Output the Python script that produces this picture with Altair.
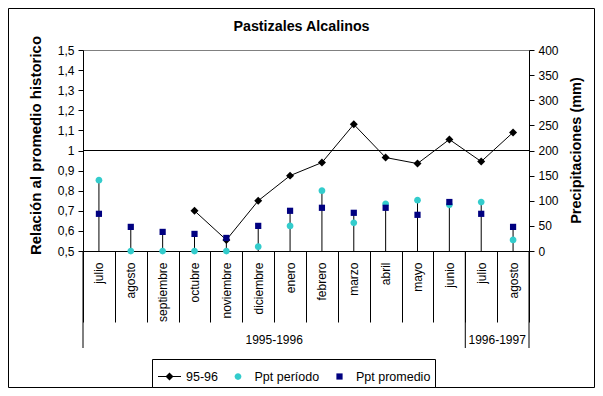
import altair as alt
import pandas as pd

# ---- data ----
months = ["julio", "agosto", "septiembre", "octubre", "noviembre", "diciembre",
          "enero", "febrero", "marzo", "abril", "mayo", "junio", "julio", "agosto"]
relacion = [None, None, None, 0.70, 0.555, 0.75, 0.875, 0.94, 1.13, 0.965, 0.935, 1.055, 0.945, 1.09]
ppt_periodo = [141, 0, 0, 0, 0, 8.5, 50, 120, 56, 94, 101, 92, 97.5, 22]
ppt_promedio = [74, 48, 38, 34, 26, 50, 80, 86, 76, 86, 72, 97.5, 74, 48]
left_ticks = [0.5, 0.6, 0.7, 0.8, 0.9, 1.0, 1.1, 1.2, 1.3, 1.4, 1.5]
right_ticks = [0, 50, 100, 150, 200, 250, 300, 350, 400]
groups = ["1995-1996", "1996-1997"]
group_center_idx = [6, 13]      # band whose left edge is the group's centre
group_start_idx = [0, 12]       # first band of each group
series = ["95-96", "Ppt período", "Ppt promedio"]
colors = ["#000000", "#33CCCC", "#000080"]

FONT = "Liberation Sans"
W, H = 446, 201

keys = [f"{m}|{i}" for i, m in enumerate(months)]
xscale = alt.Scale(domain=keys, paddingInner=0, paddingOuter=0)

rel_df = pd.DataFrame({"key": keys, "rel": relacion}).dropna()
ppt_df = pd.DataFrame({"key": keys, "p": ppt_periodo, "q": ppt_promedio})
pts_df = pd.concat([
    pd.DataFrame({"key": keys, "series": series[1], "v": ppt_periodo}),
    pd.DataFrame({"key": keys, "series": series[2], "v": ppt_promedio}),
], ignore_index=True)
grp_df = pd.DataFrame({"label": groups, "center": [keys[i] for i in group_center_idx],
                       "start": [keys[i] for i in group_start_idx]})
end_df = pd.DataFrame({"end": [keys[-1]]})

# symbol paths (unit square scaled by sqrt(size)/2)
S = 729
LINE_DIAMOND = "M-0.852,-0.037H0.852V0.037H-0.852Z M0,-0.296L0.296,0L0,0.296L-0.296,0Z"
DIAMOND = "M0,-0.296L0.296,0L0,0.296L-0.296,0Z"
CIRCLE = "M0.25,0A0.25,0.25,0,1,1,-0.25,0A0.25,0.25,0,1,1,0.25,0Z"
SQUARE = "M-0.23,-0.23H0.23V0.23H-0.23Z"

xaxis = alt.Axis(title=None, labelExpr="split(datum.label, '|')[0]", labelAngle=270,
                 labelAlign="right", labelBaseline="middle", labelPadding=-60,
                 tickBand="extent", tickSize=71, tickColor="black", domainColor="black",
                 labelFont=FONT, labelFontSize=12, labelColor="black", grid=False)

leftaxis = alt.Axis(orient="left", values=left_ticks, title="Relación al promedio historico",
                    labelExpr="replace(format(datum.value, '.1~f'), '.', ',')",
                    labelFont=FONT, labelFontSize=12, labelColor="black",
                    tickSize=5, tickColor="black", domainColor="black", labelPadding=4,
                    grid=False, titleFont=FONT, titleFontSize=15, titleFontWeight="bold",
                    titleColor="black", titleAngle=270, titleX=-48, titleY=95,
                    titleAlign="center", titleBaseline="middle")
rightaxis = alt.Axis(orient="right", values=right_ticks, title="Precipitaciones (mm)",
                     labelFont=FONT, labelFontSize=12, labelColor="black",
                     tickSize=5, tickColor="black", domainColor="black", labelPadding=4,
                     grid=False, titleFont=FONT, titleFontSize=14.5, titleFontWeight="bold",
                     titleColor="black", titleAngle=270, titleX=47, titleY=100,
                     titleAlign="center", titleBaseline="middle")

X = alt.X("key:N", scale=xscale, axis=xaxis)

frame = alt.Chart(pd.DataFrame({"a": [0]})).mark_rect(
    fill=None, stroke="black", strokeWidth=1).encode(
    x=alt.value(-74.5), x2=alt.value(511.5), y=alt.value(-41.5), y2=alt.value(337.5))

one_rule = alt.Chart(pd.DataFrame({"one": [1.0]})).mark_rule(color="black", strokeWidth=1).encode(
    y=alt.Y("one:Q", scale=alt.Scale(domain=[0.5, 1.5], nice=False, zero=False), axis=leftaxis))

line = alt.Chart(rel_df).mark_line(color="black", strokeWidth=1).encode(
    x=X, y=alt.Y("rel:Q", scale=alt.Scale(domain=[0.5, 1.5], nice=False, zero=False), axis=leftaxis))
diam = alt.Chart(rel_df).mark_point(filled=True, shape=DIAMOND, size=S, color="black", opacity=1).encode(
    x=X, y=alt.Y("rel:Q", scale=alt.Scale(domain=[0.5, 1.5], nice=False, zero=False), axis=leftaxis))

grp_rules = alt.Chart(grp_df).mark_rule(color="black", strokeWidth=1).encode(
    x=alt.X("start:N", scale=xscale, bandPosition=0, axis=xaxis),
    y=alt.value(H), y2=alt.value(H + 97))
end_rule = alt.Chart(end_df).mark_rule(color="black", strokeWidth=1).encode(
    x=alt.X("end:N", scale=xscale, bandPosition=1, axis=xaxis),
    y=alt.value(H), y2=alt.value(H + 97))
grp_text = alt.Chart(grp_df).mark_text(font=FONT, fontSize=12, color="black",
                                       baseline="middle", align="center").encode(
    x=alt.X("center:N", scale=xscale, bandPosition=0, axis=xaxis),
    y=alt.value(H + 89), text="label:N")

left = alt.layer(frame, one_rule, line, diam, grp_rules, end_rule, grp_text)

yr = alt.Scale(domain=[0, 400], nice=False)
drops = alt.Chart(ppt_df).transform_calculate(top="max(datum.p, datum.q)", zero="0").mark_rule(
    color="black", strokeWidth=1).encode(
    x=X, y=alt.Y("zero:Q", scale=yr, axis=rightaxis), y2="top:Q")

legend = alt.Legend(title=None, orient="none", legendX=69, legendY=309, direction="horizontal",
                    strokeColor="black", fillColor="white", padding=4, labelFont=FONT,
                    labelFontSize=12.5, labelColor="black", symbolSize=S, labelOffset=3,
                    columnPadding=6.5, symbolOpacity=1, cornerRadius=0, symbolStrokeWidth=0)
pts = alt.Chart(pts_df).mark_point(filled=True, size=S, opacity=1).encode(
    x=X, y=alt.Y("v:Q", scale=yr, axis=rightaxis),
    color=alt.Color("series:N", scale=alt.Scale(domain=series, range=colors), legend=legend),
    shape=alt.Shape("series:N", scale=alt.Scale(domain=series, range=[LINE_DIAMOND, CIRCLE, SQUARE]),
                    legend=legend))

right = alt.layer(drops, pts)

chart = alt.layer(left, right).resolve_scale(y="independent").properties(
    width=W, height=H,
    title=alt.TitleParams("Pastizales Alcalinos", font=FONT, fontSize=14.3, fontWeight="bold",
                          color="black", anchor="middle", dx=-4.5, offset=-26),
    padding={"left": 75, "top": 42, "right": 66, "bottom": 137},
    autosize=alt.AutoSizeParams(type="none"),
    background="white",
).configure_view(stroke="#808080", strokeWidth=1)

chart.save("out.html", embed_options={"renderer": "svg", "actions": False})
